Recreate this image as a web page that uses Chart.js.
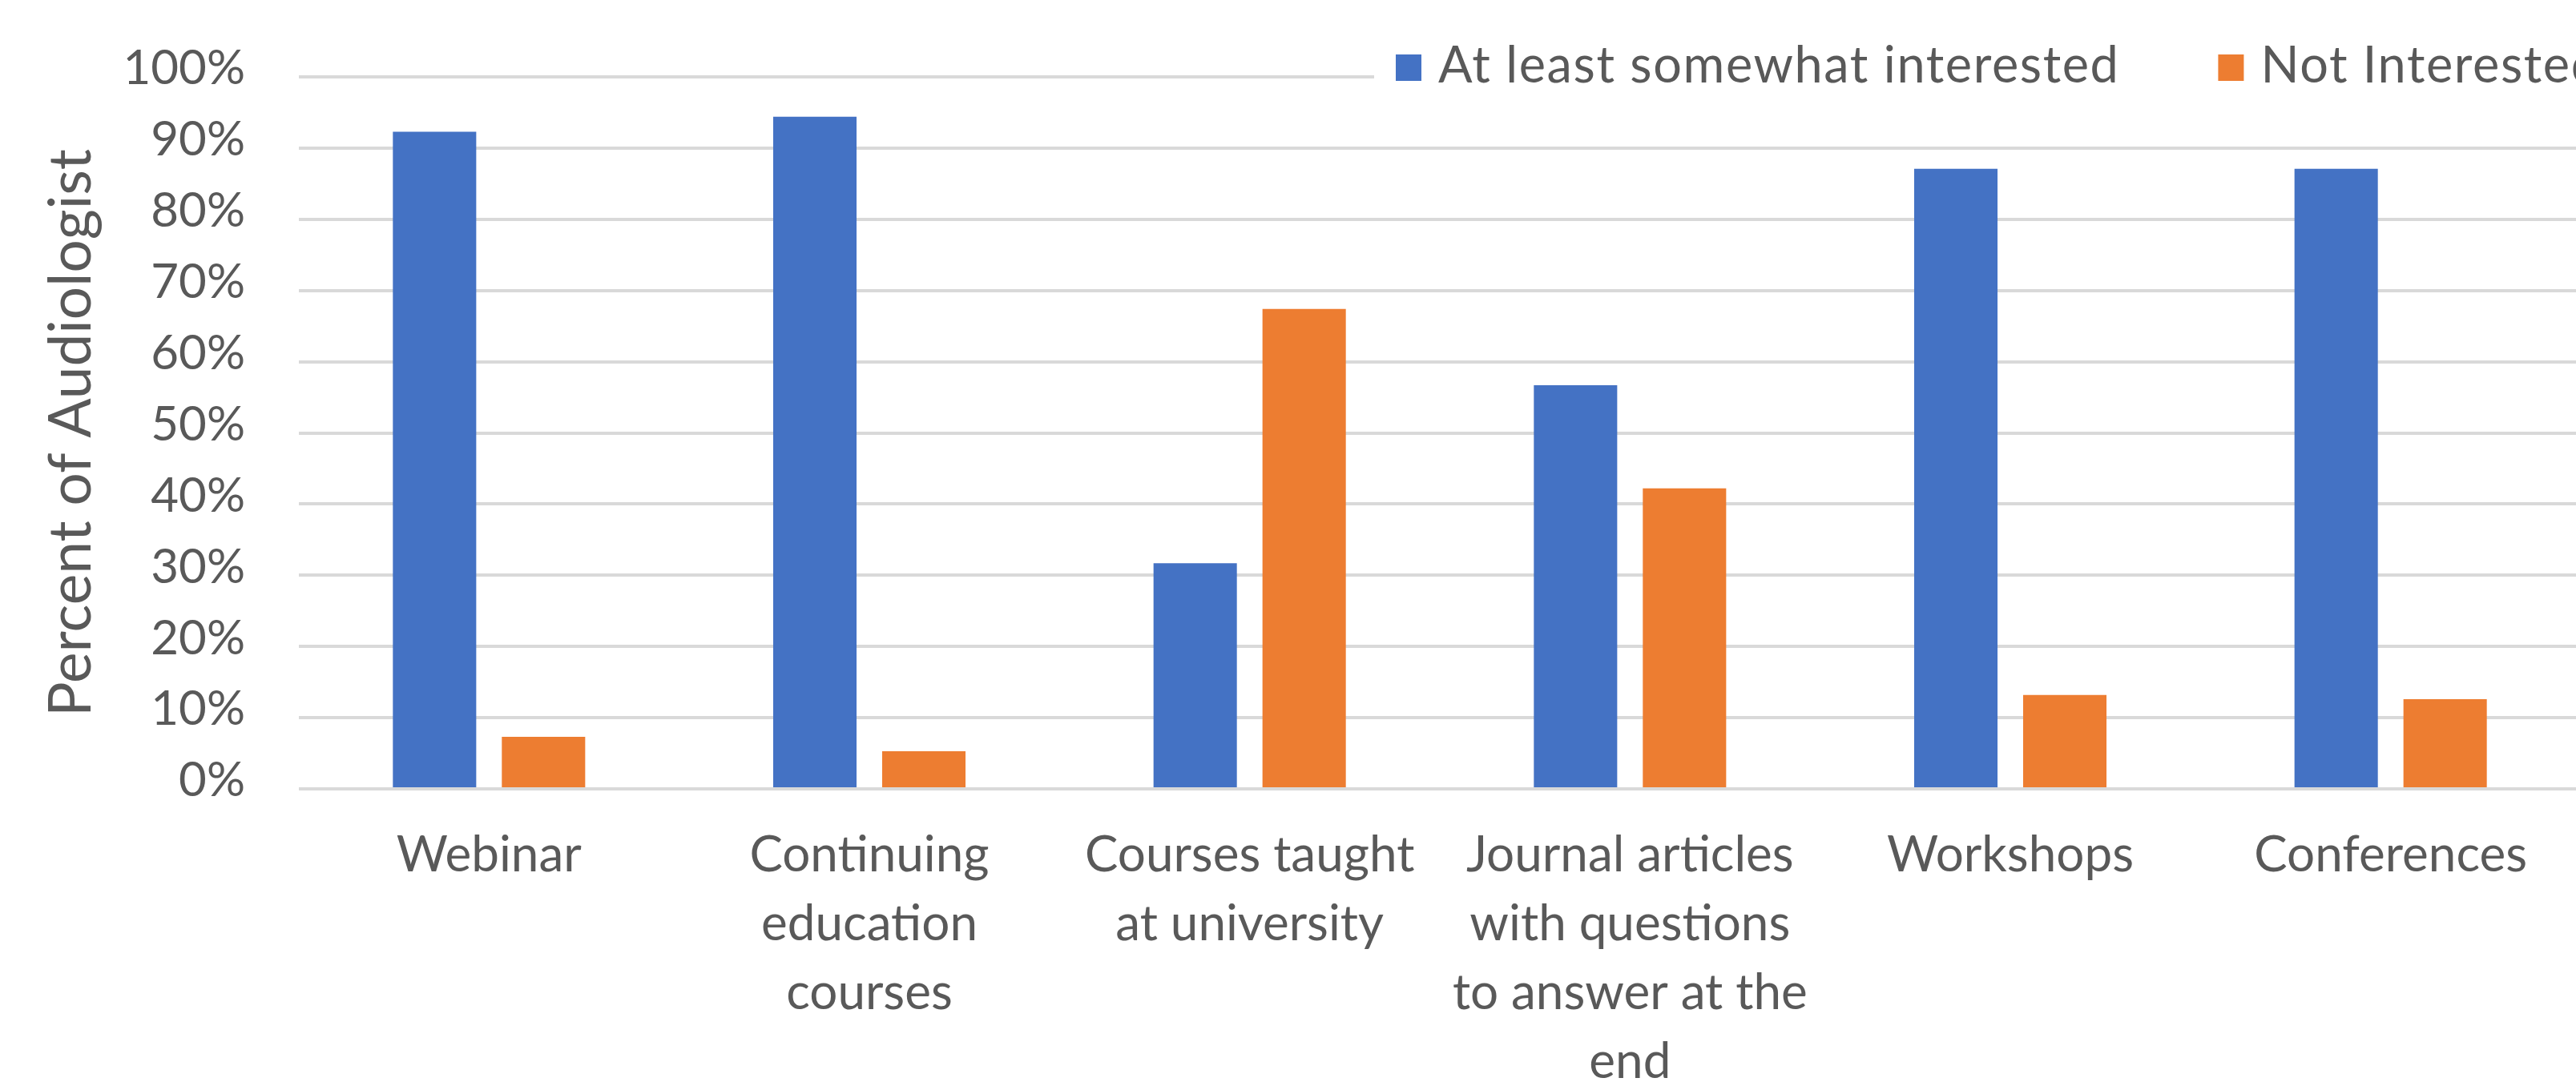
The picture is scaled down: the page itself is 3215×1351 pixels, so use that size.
<!DOCTYPE html>
<html>
<head>
<meta charset="utf-8">
<title>Interest in training formats</title>
<script src="https://cdn.jsdelivr.net/npm/chart.js@4.4.1/dist/chart.umd.min.js"></script>
<style>
  html, body { margin: 0; padding: 0; background: #fff; overflow: hidden; }
  #wrap { position: absolute; left: 0; top: 0; width: 3300px; height: 1400px; }
</style>
</head>
<body>
<div id="wrap"><canvas id="formats_chart"></canvas></div>
<script>
const categories = [
  'Webinar',
  ['Continuing', 'education', 'courses'],
  ['Courses taught', 'at university'],
  ['Journal articles', 'with questions', 'to answer at the', 'end'],
  'Workshops',
  'Conferences'
]
const interested = [92.3, 94.4, 31.7, 56.7, 87.1, 87.1]
const notInterested = [7.3, 5.3, 67.4, 42.2, 13.2, 12.6]
const seriesNames = ['At least somewhat interested', 'Not Interested']
const seriesColors = ['#4472C4', '#ED7D31']
const yTicks = [0, 10, 20, 30, 40, 50, 60, 70, 80, 90, 100]

const textGray = '#595959'

// legend sits on a white strip over the top gridline, right side of the plot
const legendStrip = {
  id: 'legendStrip',
  beforeDatasetsDraw(chart) {
    const ctx = chart.ctx
    ctx.save()
    ctx.fillStyle = '#fff'
    ctx.fillRect(1715, 60, chart.width - 1715, 50)
    ctx.font = '63px Lato'
    ctx.letterSpacing = '1.6px'
    ctx.textBaseline = 'middle'
    ctx.textAlign = 'left'
    let x = 1742
    chart.data.datasets.forEach(ds => {
      ctx.fillStyle = ds.backgroundColor
      ctx.fillRect(x, 68, 32, 33)
      ctx.fillStyle = textGray
      ctx.fillText(ds.label, x + 53, 83)
      x += 53 + ctx.measureText(ds.label).width + 123
    })
    ctx.restore()
  }
}

function startChart() {
  const el = document.getElementById('formats_chart')
  Chart.defaults.font.family = 'Lato'
  Chart.defaults.color = textGray

  new Chart(el, {
    type: 'bar',
    data: {
      labels: categories,
      datasets: [
        { label: seriesNames[0], data: interested, backgroundColor: seriesColors[0] },
        { label: seriesNames[1], data: notInterested, backgroundColor: seriesColors[1] }
      ]
    },
    options: {
      responsive: true,
      maintainAspectRatio: false,
      devicePixelRatio: 1,
      animation: false,
      categoryPercentage: 0.573,
      barPercentage: 0.765,
      layout: { padding: { left: 0, right: 79, top: 96, bottom: 0 } },
      plugins: {
        legend: { display: false },
        tooltip: { enabled: false }
      },
      scales: {
        x: {
          grid: { display: false, drawTicks: false },
          border: { display: false },
          ticks: {
            autoSkip: false,
            maxRotation: 0,
            minRotation: 0,
            padding: 40,
            font: { size: 62, lineHeight: 86 / 62 }
          },
          afterFit(scale) { scale.height = 415 }
        },
        y: {
          min: 0,
          max: 100,
          afterBuildTicks(scale) { scale.ticks = yTicks.map(v => ({ value: v })) },
          grid: { color: '#D9D9D9', lineWidth: 4, drawTicks: false },
          border: { display: false },
          ticks: {
            padding: 67,
            labelOffset: -10,
            font: { size: 60 },
            callback: v => v + '%'
          },
          title: {
            display: true,
            text: 'Percent of Audiologist',
            font: { size: 73 },
            padding: { top: 46, bottom: 0 }
          },
          afterFit(scale) {
            // fixed axis width; the wide tick padding must not push the plot down
            scale.width = 373
            scale.paddingTop = 0
            scale.paddingBottom = 0
          }
        }
      }
    },
    plugins: [legendStrip]
  })
}

document.fonts.load('62px Lato').then(startChart, startChart)
</script>
</body>
</html>
